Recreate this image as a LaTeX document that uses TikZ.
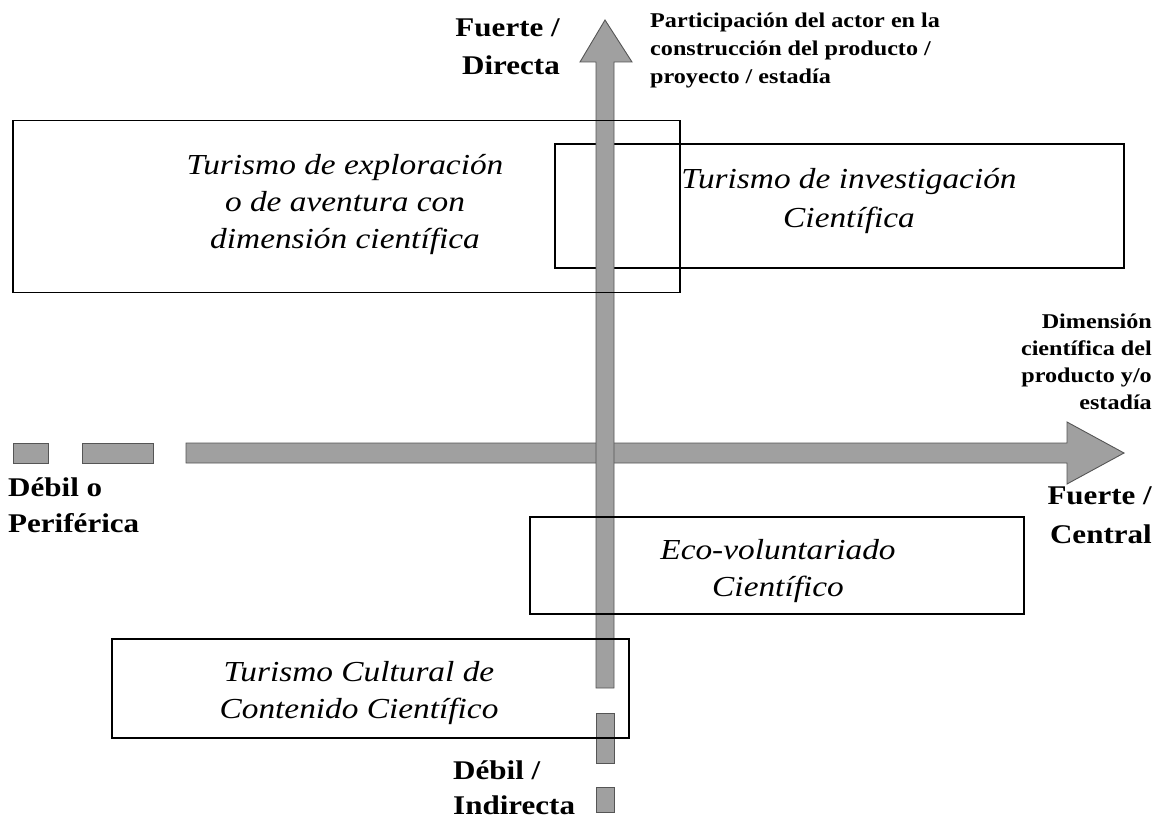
\documentclass[tikz,border=0pt]{standalone}
\usepackage{fontspec}
\setmainfont{Liberation Serif}[FakeStretch=1.15]
\definecolor{arrowfill}{RGB}{160,160,160}
\definecolor{arrowline}{RGB}{85,85,85}
\tikzset{
  bigarrow/.style={fill=arrowfill, draw=arrowline, line width=0.9pt, line join=miter},
  zonebox/.style={draw=black, line width=1.1pt, rectangle, inner sep=0pt},
  zonetext/.style={font=\fontsize{29}{37}\selectfont\itshape, align=center, inner sep=0pt},
  axisbig/.style={inner sep=0pt},
}
\begin{document}
\begin{tikzpicture}[x=1pt,y=-1pt]
\useasboundingbox (0,0) rectangle (1159,821);
% horizontal axis (bottom layer)
\draw[bigarrow] (13,443) rectangle (48,463);
\draw[bigarrow] (82,443) rectangle (153,463);
\draw[bigarrow] (186,443) -- (1067,443) -- (1067,422) -- (1124,453) -- (1067,484) -- (1067,463) -- (186,463) -- cycle;
% box under the vertical arrow
\node[zonebox, minimum width=569pt, minimum height=124pt] (inv) at (839.5,206) {};
% vertical axis
\draw[bigarrow] (596,688) -- (596,62) -- (580,62) -- (605,20) -- (632,62) -- (614,62) -- (614,688) -- cycle;
\draw[bigarrow] (596,713) rectangle (614,763);
\draw[bigarrow] (596,787) rectangle (614,812);
% boxes over the vertical arrow
\node[zonebox, minimum width=667pt, minimum height=172pt] (exp) at (346.5,206.5) {};
\node[zonebox, minimum width=494pt, minimum height=97pt] (eco) at (777,565.5) {};
\node[zonebox, minimum width=517pt, minimum height=99pt] (cul) at (370.5,688.5) {};
% box texts
\node[zonetext] (expt) at (345,205) {Turismo de exploración\\o de aventura con\\dimensión científica};
\node[zonetext, font=\fontsize{29}{39}\selectfont\itshape] (invt) at (849,201) {Turismo de investigación\\Científica};
\node[zonetext] (ecot) at (778,571) {Eco-voluntariado\\Científico};
\node[zonetext] (cult) at (359,693) {Turismo Cultural de\\Contenido Científico};
% axis labels
\node[axisbig, anchor=base east] (fd) at (560,37) {\fontsize{27}{38}\selectfont\bfseries\begin{tabular}[t]{@{}r@{}}Fuerte /\\Directa\end{tabular}};
\node[axisbig, anchor=base west] (part) at (650,28) {\fontsize{21}{28}\selectfont\bfseries\begin{tabular}[t]{@{}l@{}}Participación del actor en la\\construcción del producto /\\proyecto / estadía\end{tabular}};
\node[axisbig, anchor=base east] (dim) at (1152,328) {\fontsize{21}{27}\selectfont\bfseries\begin{tabular}[t]{@{}r@{}}Dimensión\\científica del\\producto y/o\\estadía\end{tabular}};
\node[axisbig, anchor=base east] (fc) at (1152,504) {\fontsize{27}{39}\selectfont\bfseries\begin{tabular}[t]{@{}r@{}}Fuerte /\\Central\end{tabular}};
\node[axisbig, anchor=base west] (dp) at (8,496) {\fontsize{27}{36}\selectfont\bfseries\begin{tabular}[t]{@{}l@{}}Débil o\\Periférica\end{tabular}};
\node[axisbig, anchor=base west] (di) at (453,779) {\fontsize{27}{35}\selectfont\bfseries\begin{tabular}[t]{@{}l@{}}Débil /\\Indirecta\end{tabular}};
\end{tikzpicture}
\end{document}
